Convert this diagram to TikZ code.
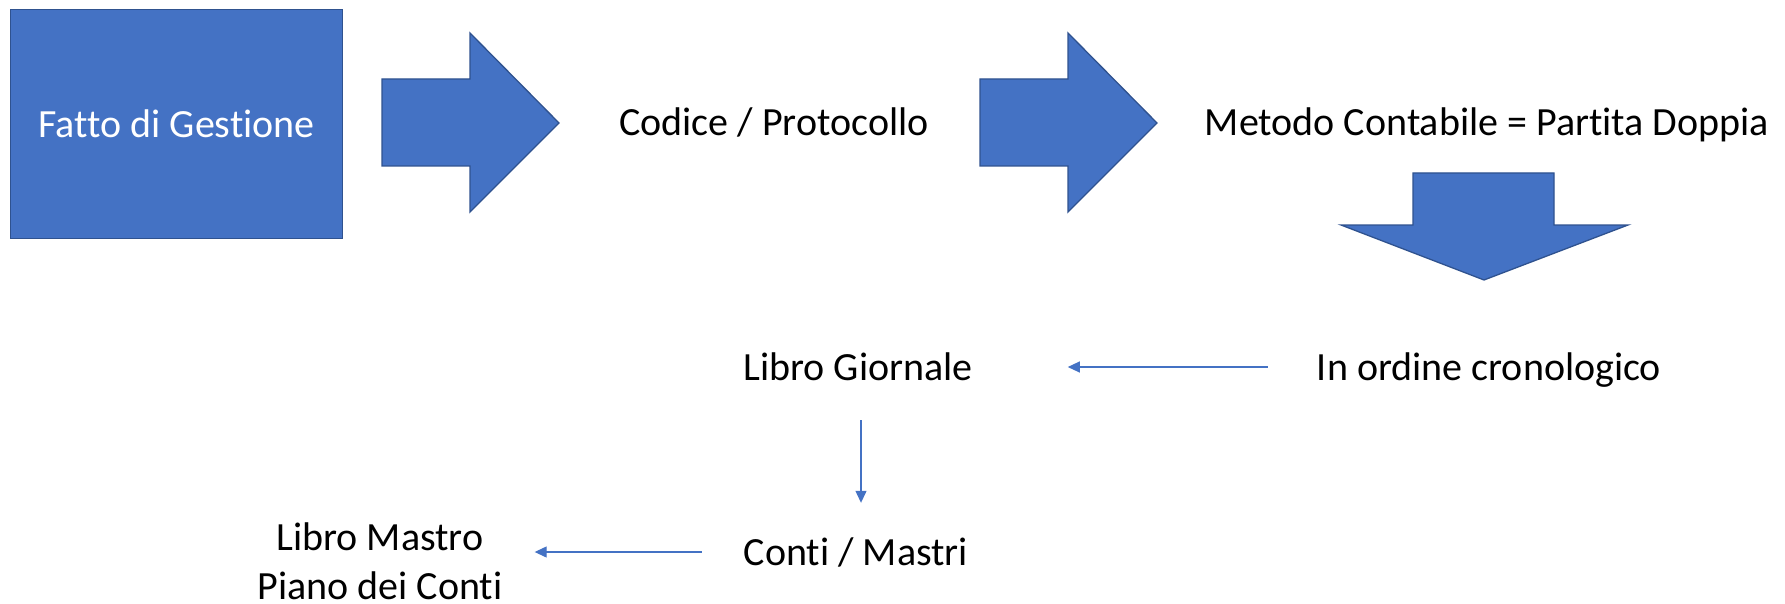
\documentclass[tikz,border=0pt]{standalone}
\usepackage{fontspec}
\setmainfont{Carlito}[Ligatures=NoCommon]
\usetikzlibrary{arrows.meta}
\definecolor{offblue}{HTML}{4472C4}
\definecolor{offedge}{HTML}{2F528F}
\tikzset{
  blockarrow/.style={fill=offblue,draw=offedge,line width=1.3pt,line join=miter},
  lbl/.style={font=\fontsize{40}{49}\selectfont,inner sep=0pt,text height=26pt,text depth=0pt,anchor=center},
  conn/.style={draw=offblue,line width=1.2pt,-{Triangle[length=12pt,width=11pt]}}
}
\begin{document}
\begin{tikzpicture}[x=1pt,y=-1pt]
\useasboundingbox (0,0) rectangle (1785,604);
% box
\node[blockarrow,minimum width=332pt,minimum height=229pt,inner sep=0pt,anchor=north west] (fatto) at (10,9) {};
\node[lbl,text=white] (fattotxt) at (fatto.center) {Fatto di Gestione};
% arrow 1
\draw[blockarrow] (382,79) -- (470,79) -- (470,33) -- (559,123) -- (470,212) -- (470,166) -- (382,166) -- cycle;
\node[lbl] (codice) at (774,123) {Codice / Protocollo};
% arrow 2
\draw[blockarrow] (980,79) -- (1068,79) -- (1068,33) -- (1157,123) -- (1068,212) -- (1068,166) -- (980,166) -- cycle;
\node[lbl] (metodo) at (1487,123) {Metodo Contabile = Partita Doppia};
% down arrow
\draw[blockarrow] (1413,173) -- (1554,173) -- (1554,225) -- (1628,225) -- (1484,280) -- (1341,225) -- (1413,225) -- cycle;
\node[lbl] (cron) at (1489,367) {In ordine cronologico};
\node[lbl] (giornale) at (858,367) {Libro Giornale};
\node[lbl] (conti) at (856,552) {Conti / Mastri};
\node[font=\fontsize{40}{49}\selectfont,inner sep=0pt,align=center] (mastro) at (380,561) {Libro Mastro\\Piano dei Conti};
\coordinate (vtop) at ([xshift=3pt,yshift=-40pt]giornale.south);
\coordinate (vbot) at ([yshift=36pt]conti.north);
\draw[conn] ([xshift=-49pt]cron.west) -- ([xshift=95pt]giornale.east);
\draw[conn] (vtop) -- (vtop |- vbot);
\draw[conn] ([xshift=-42pt]conti.west) -- ([xshift=32pt]mastro.east |- conti.west);
\end{tikzpicture}
\end{document}
